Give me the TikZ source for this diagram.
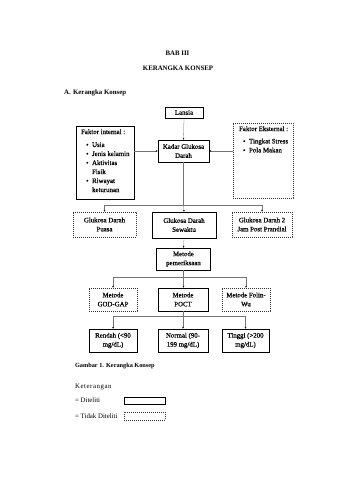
\documentclass[tikz,border=0pt]{standalone}
\usepackage{fontspec}
\setmainfont{Liberation Serif}[UprightFeatures={FakeBold=0.7}]
\newfontfamily\lightserif{Liberation Serif}
\usetikzlibrary{arrows.meta}
\tikzset{
  sz/.style 2 args={minimum width={#1*1.7552pt}, minimum height={#2*1.7552pt}},
  txt/.style={font=\fontsize{12}{15.8}\selectfont, align=center, inner sep=0pt},
  solidbox/.style={txt, draw=black, line width=0.9pt},
  dotbox/.style={txt, draw=black!80, line width=1pt, dash pattern=on 1.7552pt off 1.7552pt},
  conn/.style={draw=black!55, line width=0.5pt},
  arr/.style={conn, -{Stealth[length=3.2pt,width=2.8pt,fill=black,color=black]}},
  head/.style={font=\fontsize{12}{14}\selectfont\bfseries, inner sep=0pt},
  plain/.style={font=\fontsize{12}{14}\selectfont\lightserif, inner sep=0pt}
}
\begin{document}
\begin{tikzpicture}[x=1.7552pt, y=-1.7552pt]
\useasboundingbox[fill=white] (0,0) rectangle (339,480);

% headings
\node[head, anchor=base] (bab) at (177.5,55) {BAB III};
\node[head, anchor=base] (judul) at (178,70) {KERANGKA KONSEP};
\node[head, anchor=base west] (suba) at (64,94) {A.};
\node[head, anchor=base west] (sub) at (73,94) {Kerangka Konsep};

% top level
\node[solidbox, sz={38}{11}] (lansia) at (184,112.5) {Lansia};
\node[solidbox, sz={51}{22}] (kadar) at (183.5,151) {Kadar Glukosa\\Darah};
\node[solidbox, sz={58}{73}] (fi) at (105,162.5) {};
\node[dotbox, sz={60}{75}] (fe) at (263,160.5) {};

\node[txt, anchor=base west, align=left] (fitext) at (81,134) {%
\begin{tabular}[t]{@{\hspace{8.8pt}}l@{\hspace{6.3pt}}l@{}}
\multicolumn{2}{@{}l@{}}{Faktor internal :}\\[7pt]
\textbullet & Usia\\
\textbullet & Jenis kelamin\\
\textbullet & Aktivitas\\
 & Fisik\\
\textbullet & Riwayat\\
 & keturunan
\end{tabular}};
\node[txt, anchor=base west, align=left] (fetext) at (239,131) {%
\begin{tabular}[t]{@{\hspace{7pt}}l@{\hspace{6.3pt}}l@{}}
\multicolumn{2}{@{}l@{}}{Faktor Eksternal :}\\[6pt]
\textbullet & Tingkat Stress\\
\textbullet & Pola Makan
\end{tabular}};

% second level
\node[dotbox, sz={63}{25}] (puasa) at (104.5,224.5) {Glukosa Darah\\Puasa};
\node[solidbox, sz={64}{26}] (sewaktu) at (184,225) {Glukosa Darah\\Sewaktu};
\node[dotbox, sz={60}{25}] (prandial) at (262,224.5) {Glukosa Darah 2\\Jam Post Prandial};

\node[solidbox, sz={54}{22}] (metode) at (183.5,259) {Metode\\pemeriksaan};

\node[dotbox, sz={48}{23}] (god) at (113,299.5) {Metode\\GOD-GAP};
\node[solidbox, sz={50}{23}] (poct) at (183,299.5) {Metode\\POCT};
\node[dotbox, sz={48}{23}] (folin) at (246,299.5) {Metode Folin-\\Wu};

\node[solidbox, sz={48}{23}] (rendah) at (113,340.5) {Rendah (<90\\mg/dL)};
\node[solidbox, sz={50}{23}] (normal) at (183,340.5) {Normal (90-\\199 mg/dL)};
\node[solidbox, sz={47}{23}] (tinggi) at (245.5,340.5) {Tinggi (>200\\mg/dL)};

% junction coordinates
\coordinate (j1) at (183.5,205.5);
\coordinate (j2) at (183.5,277);
\coordinate (j3) at (183,316);

% connectors
\draw[arr] (lansia.south) -- (kadar.north);
\draw[arr] (fi.east |- kadar.west) -- (kadar.west);
\draw[arr] (fe.west |- kadar.east) -- (kadar.east);
\draw[conn] (kadar.south) -- (j1);
\draw[arr] (j1) -- (sewaktu.north);
\draw[arr] (j1) -| (puasa.north);
\draw[arr] (j1) -| (prandial.north);
\draw[arr] (sewaktu.south) -- (metode.north);
\draw[conn] (metode.south) -- (j2);
\draw[arr] (j2) -- (poct.north -| j2);
\draw[arr] (j2) -| (god.north);
\draw[arr] (j2) -| (folin.north);
\draw[conn] (poct.south) -- (j3);
\draw[arr] (j3) -- (normal.north);
\draw[arr] (j3) -| (rendah.north);
\draw[arr] (j3) -| (tinggi.north);

% caption and legend
\node[font=\fontsize{11}{13}\selectfont\bfseries, inner sep=0pt, anchor=base west] (cap) at (75,367) {Gambar 1. Kerangka Konsep};
\node[plain, anchor=base west] (ket) at (75,388) {\addfontfeature{LetterSpace=8}Keterangan};
\node[plain, anchor=base west] (l1) at (75,402.5) {= Diteliti};
\node[plain, anchor=base west] (l2) at (75,418.5) {= Tidak Diteliti};
\node[draw=black, line width=0.9pt, inner sep=0pt, sz={41}{7}] (lb1) at (144.5,400.5) {};
\node[draw=black!80, line width=1pt, dash pattern=on 1.7552pt off 1.7552pt, inner sep=0pt, sz={41}{8}] (lb2) at (144.5,416) {};
\end{tikzpicture}
\end{document}
